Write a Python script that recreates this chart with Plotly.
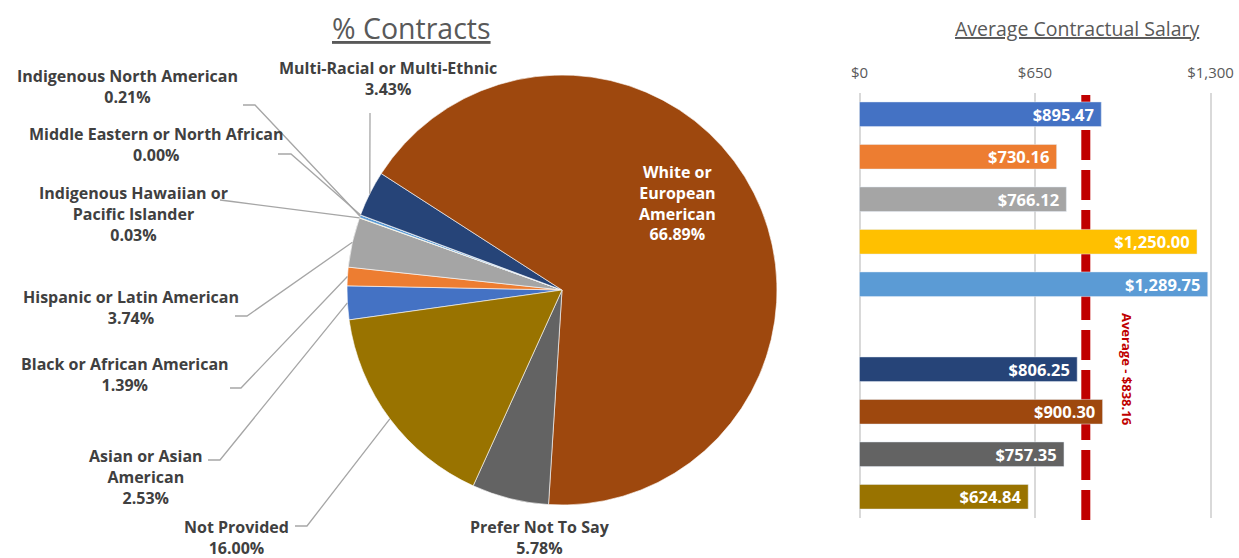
import math
import plotly.graph_objects as go

# data
groups = ['Asian or Asian American', 'Black or African American', 'Hispanic or Latin American',
          'Indigenous Hawaiian or Pacific Islander', 'Indigenous North American',
          'Middle Eastern or North African', 'Multi-Racial or Multi-Ethnic',
          'White or European American', 'Prefer Not To Say', 'Not Provided']
share = [2.53, 1.39, 3.74, 0.03, 0.21, 0.00, 3.43, 66.89, 5.78, 16.00]
salary = [895.47, 730.16, 766.12, 1250.00, 1289.75, None, 806.25, 900.30, 757.35, 624.84]
avg_salary = 838.16
salary_ticks = [0, 650, 1300]

colors = ['#4472C4', '#ED7D31', '#A5A5A5', '#FFC000', '#5B9BD5', '#70AD47',
          '#264478', '#9E480E', '#636363', '#997300']

W, H = 1239, 558
FONT = 'Open Sans'
TXT = '#404040'


def fx(x):
    return x / W


def fy(y):
    return 1 - y / H


# pie geometry (pixels)
cx, cy, r = 562, 290, 215
rot = 262

# bar axis: $0 at 859.5px, $1,300 at 1210.5px, small pad so edge gridlines show
x0_px, x1_px = 859.5, 1210.5
pad = 20
ppd = (x1_px - x0_px) / 1300.0

fig = go.Figure()

fig.add_trace(go.Pie(
    labels=groups, values=share, sort=False, direction='clockwise', rotation=rot,
    marker=dict(colors=colors, line=dict(color='white', width=0.6)),
    textinfo='none', showlegend=False, automargin=False,
    domain=dict(x=[fx(cx - r), fx(cx + r)], y=[fy(cy + r), fy(cy - r)]),
))

fig.add_trace(go.Bar(
    x=salary, y=groups, orientation='h', marker_color=colors, width=0.58,
    texttemplate='$%{x:,.2f}\u00a0', textposition='inside', insidetextanchor='end',
    constraintext='none',
    textfont=dict(family=FONT, size=16.5, color='white', weight='bold'),
    showlegend=False,
))

# label placement: (centre x, centre y, stub start, stub end) in pixels
label_pos = {
    'Asian or Asian American': (146, 477, (208, 460), (220, 460)),
    'Black or African American': (125, 374, (230, 388), (241, 388)),
    'Hispanic or Latin American': (131, 307, (235, 316), (247, 316)),
    'Indigenous Hawaiian or Pacific Islander': (133, 214, (220, 200), (232, 201.5)),
    'Indigenous North American': (127, 86, (243, 105), (255, 105)),
    'Middle Eastern or North African': (156, 144, (278, 154), (291, 154)),
    'Multi-Racial or Multi-Ethnic': (388, 79, (370, 113), (370, 120)),
    'White or European American': (677, 203, None, None),
    'Prefer Not To Say': (540, 537.5, None, None),
    'Not Provided': (236, 537.5, (295, 526), (307, 526)),
}
label_text = {
    'Asian or Asian American': 'Asian or Asian<br>American',
    'Indigenous Hawaiian or Pacific Islander': 'Indigenous Hawaiian or<br>Pacific Islander',
    'White or European American': 'White or<br>European<br>American',
}

total = sum(share)
start = rot
shapes = []
annotations = []
for g, v in zip(groups, share):
    sweep = v / total * 360
    mid = math.radians(start + sweep / 2)
    start += sweep
    lx, ly, s0, s1 = label_pos[g]
    name = label_text.get(g, g)
    col = 'white' if g.startswith('White') else TXT
    annotations.append(dict(
        x=fx(lx), y=fy(ly), xref='paper', yref='paper', showarrow=False,
        text='<b>%s<br>%.2f%%</b>' % (name, v), align='center',
        font=dict(family=FONT, size=16, color=col), xanchor='center', yanchor='middle'))
    if s0 is not None:
        tx = cx + r * math.sin(mid)
        ty = cy - r * math.cos(mid)
        shapes.append(dict(
            type='path', xref='paper', yref='paper',
            path='M %f,%f L %f,%f L %f,%f' % (fx(s0[0]), fy(s0[1]), fx(s1[0]), fy(s1[1]),
                                             fx(tx), fy(ty)),
            line=dict(color='#A6A6A6', width=1.3)))

# average line, behind the bars
shapes.append(dict(type='line', xref='x', yref='paper', x0=avg_salary, x1=avg_salary,
                   y0=fy(520), y1=fy(95), layer='below',
                   line=dict(color='#C00000', width=9, dash='30px,10px')))
annotations.append(dict(x=fx(1127), y=fy(369), xref='paper', yref='paper', showarrow=False,
                        xanchor='center', yanchor='middle',
                        text='<b>Average - $%s</b>' % format(avg_salary, ',.2f'), textangle=90,
                        font=dict(family=FONT, size=13, color='#C00000')))

# titles
annotations.append(dict(x=fx(411), y=fy(28), xref='paper', yref='paper', showarrow=False,
                        xanchor='center', yanchor='middle',
                        text='<u>% Contracts</u>', font=dict(family=FONT, size=28.5, color='#595959')))
annotations.append(dict(x=fx(1077), y=fy(29), xref='paper', yref='paper', showarrow=False,
                        xanchor='center', yanchor='middle',
                        text='<u>Average Contractual Salary</u>',
                        font=dict(family=FONT, size=19.5, color='#595959')))

fig.update_layout(
    width=W, height=H, margin=dict(l=0, r=0, t=0, b=0, autoexpand=False),
    paper_bgcolor='white', plot_bgcolor='white',
    font=dict(family=FONT, color=TXT),
    xaxis=dict(domain=[fx(x0_px - pad * ppd), fx(x1_px + pad * ppd)], range=[-pad, 1300 + pad],
               side='top', automargin=False,
               tickvals=salary_ticks, tickformat='$,', showgrid=True, gridcolor='#D9D9D9',
               gridwidth=1.5, zeroline=False, showline=False, ticks='outside', ticklen=8,
               tickcolor='rgba(0,0,0,0)', tickfont=dict(family=FONT, size=15, color='#595959')),
    yaxis=dict(domain=[fy(518), fy(93)], autorange='reversed', showticklabels=False,
               automargin=False, showgrid=False, zeroline=False, showline=False),
    bargap=0.42,
    shapes=shapes, annotations=annotations,
)

fig.write_html('out.html', config={'displayModeBar': False},
               post_script="document.body.style.margin='0';")
